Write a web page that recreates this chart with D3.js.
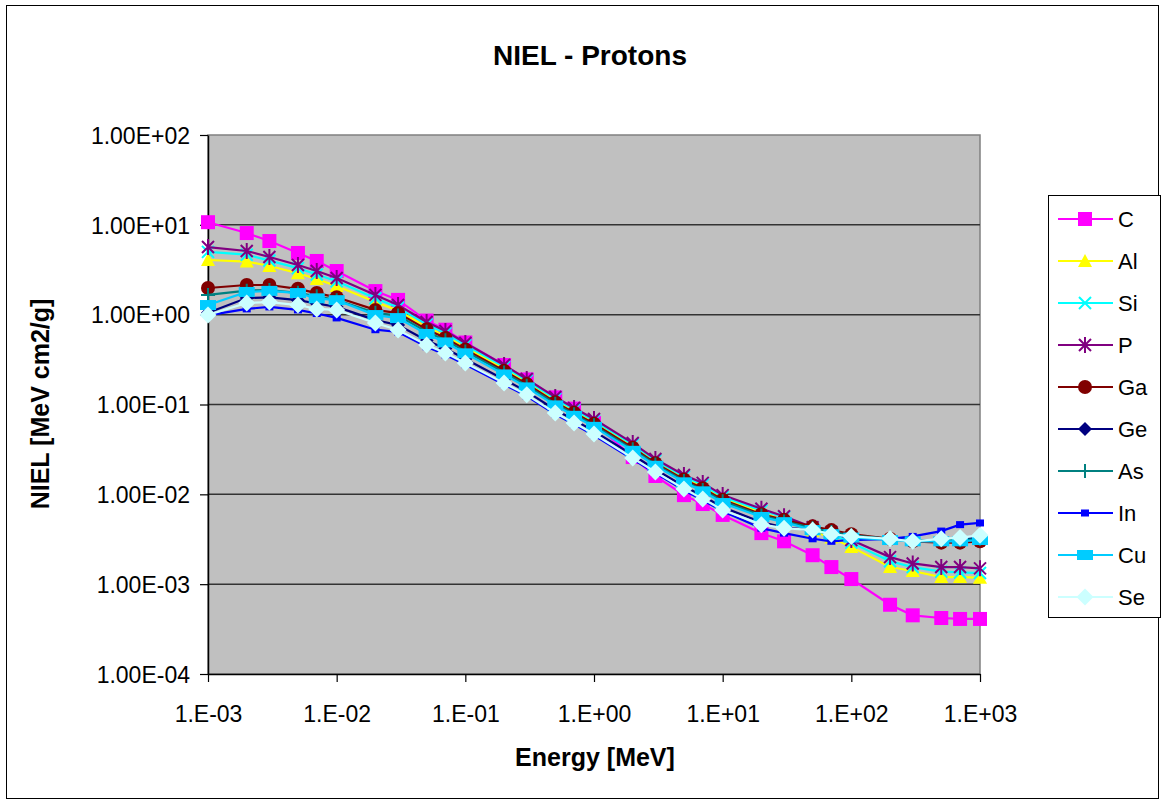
<!DOCTYPE html>
<html>
<head>
<meta charset="utf-8">
<script src="https://cdn.jsdelivr.net/npm/d3@7"></script>
<style>
  body { margin: 0; background: #fff; }
  text { font-family: Arial, "Liberation Sans", sans-serif; }
</style>
</head>
<body>
<svg class="chart"></svg>
<script>
// energies (MeV)
const energy = [1e-3, 2e-3, 3e-3, 5e-3, 7e-3, 1e-2, 2e-2, 3e-2, 5e-2, 7e-2,
  1e-1, 2e-1, 3e-1, 5e-1, 7e-1, 1, 2, 3, 5, 7,
  10, 20, 30, 50, 70, 100, 200, 300, 500, 700, 1000]

const seriesNames = ["C", "Al", "Si", "P", "Ga", "Ge", "As", "In", "Cu", "Se"]

const C = [10.7, 8.1, 6.6, 4.86, 3.96, 3.06, 1.83, 1.46, 0.86, 0.68,
  0.49, 0.275, 0.19, 0.12, 0.09, 0.062, 0.026, 0.016, 0.0098, 0.0078,
  0.0059, 0.0037, 0.0030, 0.0021, 0.00155, 0.00114, 0.00059, 0.00045, 0.00042, 0.00041, 0.00041]
const Al = [4.06, 3.9, 3.48, 2.9, 2.49, 2.08, 1.38, 1.11, 0.728, 0.581,
  0.432, 0.249, 0.176, 0.111, 0.0839, 0.0632, 0.0342, 0.023, 0.0152, 0.0122,
  0.009, 0.0063, 0.0051, 0.0039, 0.0033, 0.0026, 0.00155, 0.0014, 0.0012, 0.0012, 0.00118]
const Si = [5.0, 4.65, 4.0, 3.3, 2.8, 2.35, 1.52, 1.2, 0.78, 0.621,
  0.459, 0.263, 0.185, 0.116, 0.0879, 0.0662, 0.0358, 0.0239, 0.0158, 0.0128,
  0.0094, 0.0066, 0.0056, 0.0041, 0.0036, 0.0029, 0.0018, 0.00155, 0.00138, 0.00135, 0.00133]
const P = [5.66, 5.11, 4.38, 3.57, 3.06, 2.56, 1.66, 1.28, 0.828, 0.658,
  0.483, 0.275, 0.192, 0.121, 0.0914, 0.0689, 0.0372, 0.0247, 0.0164, 0.0134,
  0.0098, 0.0069, 0.0057, 0.0043, 0.0038, 0.0031, 0.002, 0.0017, 0.00155, 0.00155, 0.0015]
const Ga = [1.98, 2.14, 2.14, 1.94, 1.74, 1.56, 1.13, 1.04, 0.686, 0.55,
  0.41, 0.238, 0.169, 0.106, 0.0809, 0.061, 0.033, 0.0222, 0.0146, 0.0117,
  0.0087, 0.006, 0.0052, 0.0044, 0.004, 0.0036, 0.0032, 0.003, 0.0029, 0.0029, 0.003]
const Ge = [1.05, 1.53, 1.56, 1.45, 1.33, 1.22, 0.87, 0.767, 0.516, 0.419,
  0.321, 0.19, 0.139, 0.0873, 0.0671, 0.0506, 0.0274, 0.0189, 0.0123, 0.0096,
  0.0072, 0.0049, 0.0043, 0.004, 0.0036, 0.0034, 0.0032, 0.0031, 0.0031, 0.0032, 0.0033]
const As = [1.66, 1.85, 1.88, 1.75, 1.6, 1.45, 1.05, 0.977, 0.646, 0.519,
  0.39, 0.227, 0.162, 0.102, 0.0778, 0.0586, 0.0317, 0.0215, 0.0141, 0.0112,
  0.0084, 0.0058, 0.005, 0.0042, 0.0038, 0.0035, 0.0032, 0.0031, 0.0031, 0.0031, 0.0032]
const In = [0.98, 1.16, 1.22, 1.13, 1.03, 0.92, 0.68, 0.641, 0.439, 0.357,
  0.278, 0.167, 0.124, 0.0778, 0.0604, 0.0455, 0.0246, 0.0172, 0.0111, 0.0086,
  0.0065, 0.0042, 0.0037, 0.0032, 0.003, 0.0031, 0.0032, 0.0034, 0.0039, 0.0046, 0.0048]
const Cu = [1.28, 1.79, 1.84, 1.74, 1.52, 1.45, 0.99, 0.916, 0.61, 0.491,
  0.371, 0.216, 0.155, 0.0977, 0.0748, 0.0564, 0.0305, 0.0208, 0.0136, 0.0108,
  0.008, 0.0056, 0.0049, 0.004, 0.0036, 0.0033, 0.0031, 0.003, 0.003, 0.003, 0.0031]
const Se = [0.99, 1.35, 1.38, 1.28, 1.16, 1.13, 0.807, 0.675, 0.459, 0.374,
  0.29, 0.173, 0.128, 0.0804, 0.0622, 0.0469, 0.0253, 0.0177, 0.0115, 0.0089,
  0.0067, 0.0046, 0.0042, 0.004, 0.0036, 0.0034, 0.0032, 0.003, 0.0032, 0.0033, 0.0035]

const seriesValues = [C, Al, Si, P, Ga, Ge, As, In, Cu, Se]

const xTicks = [1e-3, 1e-2, 1e-1, 1, 10, 100, 1000]
const xTickLabels = ["1.E-03", "1.E-02", "1.E-01", "1.E+00", "1.E+01", "1.E+02", "1.E+03"]
const yTicks = [1e-4, 1e-3, 1e-2, 1e-1, 1, 10, 100]
const yTickLabels = ["1.00E-04", "1.00E-03", "1.00E-02", "1.00E-01", "1.00E+00", "1.00E+01", "1.00E+02"]

// look of each series
const colors = ["#ff00ff", "#ffff00", "#00ffff", "#800080", "#800000", "#000080", "#008080", "#0000ff", "#00ccff", "#ccffff"]
const markers = ["square", "triangle", "x", "star", "circle", "diamond", "plus", "smallsquare", "rect", "bigdiamond"]

const width = 1165, height = 805
const plot = { left: 208, top: 135, right: 980, bottom: 674 }

const svg = d3.select(".chart")
    .attr("width", width)
    .attr("height", height)

// outer frame
svg.append("rect")
    .attr("x", 6.5).attr("y", 5.5)
    .attr("width", 1152).attr("height", 793)
    .attr("fill", "#fff")
    .attr("stroke", "#000").attr("stroke-width", 1)

const x = d3.scaleLog().domain([1e-3, 1e3]).range([plot.left, plot.right])
const y = d3.scaleLog().domain([1e-4, 1e2]).range([plot.bottom, plot.top])

svg.append("rect")
    .attr("x", plot.left).attr("y", plot.top)
    .attr("width", plot.right - plot.left).attr("height", plot.bottom - plot.top)
    .attr("fill", "#c0c0c0")
    .attr("stroke", "#808080").attr("stroke-width", 1.5)

// horizontal grid
svg.selectAll("grid")
    .data(yTicks.slice(1, -1))
    .enter()
    .append("line")
    .attr("x1", plot.left).attr("x2", plot.right)
    .attr("y1", d => y(d)).attr("y2", d => y(d))
    .attr("stroke", "#333").attr("stroke-width", 1.5)

// axes
const xAxis = d3.axisBottom(x).tickValues(xTicks)
    .tickFormat((d, i) => xTickLabels[i]).tickSize(8).tickSizeOuter(0)
const yAxis = d3.axisLeft(y).tickValues(yTicks)
    .tickFormat((d, i) => yTickLabels[i]).tickSize(8).tickSizeOuter(0)

const gx = svg.append("g").attr("transform", `translate(0,${plot.bottom})`).call(xAxis)
const gy = svg.append("g").attr("transform", `translate(${plot.left},0)`).call(yAxis)

;[gx, gy].forEach(g => {
    g.select(".domain").attr("stroke", "#000").attr("stroke-width", 1.5)
    g.selectAll(".tick line").attr("stroke", "#000").attr("stroke-width", 1.2)
    g.selectAll(".tick text").attr("fill", "#000").style("font-size", "23px")
        .style("font-family", "Arial, 'Liberation Sans', sans-serif")
})
gx.selectAll(".tick text").attr("dy", null).attr("y", 48)
gy.selectAll(".tick text").attr("x", -18).attr("dy", "0.36em")

// marker shapes
function drawMarker(g, type, color) {
    if (type == "square") {
        g.append("rect").attr("x", -7).attr("y", -7).attr("width", 14).attr("height", 14).attr("fill", color)
    } else if (type == "smallsquare") {
        g.append("rect").attr("x", -4).attr("y", -3.5).attr("width", 8).attr("height", 7).attr("fill", color)
    } else if (type == "rect") {
        g.append("rect").attr("x", -8).attr("y", -5).attr("width", 16).attr("height", 10).attr("fill", color)
    } else if (type == "triangle") {
        g.append("path").attr("d", "M0,-7L7,6L-7,6Z").attr("fill", color)
    } else if (type == "circle") {
        g.append("circle").attr("r", 7).attr("fill", color)
    } else if (type == "diamond") {
        g.append("path").attr("d", "M0,-7L7,0L0,7L-7,0Z").attr("fill", color)
    } else if (type == "bigdiamond") {
        g.append("path").attr("d", "M0,-8.5L8.5,0L0,8.5L-8.5,0Z").attr("fill", color)
    } else if (type == "x") {
        g.append("path").attr("d", "M-6,-6L6,6M-6,6L6,-6").attr("stroke", color).attr("stroke-width", 2)
    } else if (type == "star") {
        g.append("path").attr("d", "M-6,-6L6,6M-6,6L6,-6M0,-8L0,8").attr("stroke", color).attr("stroke-width", 2)
    } else if (type == "plus") {
        g.append("path").attr("d", "M0,-7L0,7M-7,0L7,0").attr("stroke", color).attr("stroke-width", 2)
    }
}

const line = d3.line()
    .x(d => x(d[0]))
    .y(d => y(d[1]))

// one group per series, drawn in order so Se ends on top
seriesNames.forEach((name, i) => {
    const pts = energy.map((e, j) => [e, seriesValues[i][j]])
    const g = svg.append("g").attr("class", "series")
    g.append("path")
        .attr("d", line(pts))
        .attr("fill", "none")
        .attr("stroke", colors[i])
        .attr("stroke-width", 2.2)
    pts.forEach(p => {
        const m = g.append("g").attr("transform", `translate(${x(p[0])},${y(p[1])})`)
        drawMarker(m, markers[i], colors[i])
    })
})

// titles
svg.append("text")
    .attr("x", 590).attr("y", 65)
    .attr("text-anchor", "middle")
    .style("font-size", "28px").style("font-weight", "bold")
    .text("NIEL - Protons")

svg.append("text")
    .attr("x", 595).attr("y", 766)
    .attr("text-anchor", "middle")
    .style("font-size", "25px").style("font-weight", "bold")
    .text("Energy [MeV]")

svg.append("text")
    .attr("transform", "translate(49,404) rotate(-90)")
    .attr("text-anchor", "middle")
    .style("font-size", "25px").style("font-weight", "bold")
    .text("NIEL [MeV cm2/g]")

// legend
const legend = svg.append("g")
legend.append("rect")
    .attr("x", 1048.5).attr("y", 195.5)
    .attr("width", 112).attr("height", 422)
    .attr("fill", "#fff").attr("stroke", "#000").attr("stroke-width", 1)

seriesNames.forEach((name, i) => {
    const ly = 219 + i * 42
    legend.append("line")
        .attr("x1", 1058).attr("x2", 1113)
        .attr("y1", ly).attr("y2", ly)
        .attr("stroke", colors[i]).attr("stroke-width", 2.2)
    drawMarker(legend.append("g").attr("transform", `translate(1085,${ly})`), markers[i], colors[i])
    legend.append("text")
        .attr("x", 1118).attr("y", ly + 8)
        .style("font-size", "22px")
        .text(name)
})
</script>
</body>
</html>
